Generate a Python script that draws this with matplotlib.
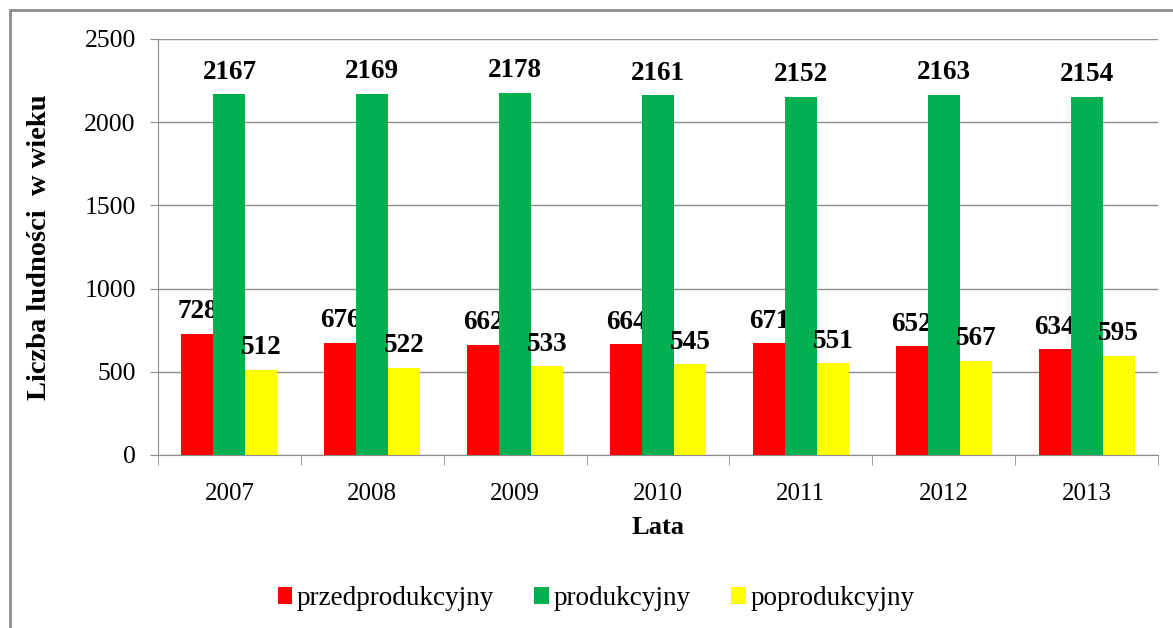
import matplotlib
matplotlib.use('Agg')
import numpy as np
import matplotlib.pyplot as plt
from matplotlib.patches import Rectangle

lata = ['2007', '2008', '2009', '2010', '2011', '2012', '2013']
przedprodukcyjny = [728, 676, 662, 664, 671, 652, 634]
produkcyjny = [2167, 2169, 2178, 2161, 2152, 2163, 2154]
poprodukcyjny = [512, 522, 533, 545, 551, 567, 595]

plt.rcParams['font.family'] = ['Liberation Serif', 'DejaVu Serif']

fig = plt.figure(figsize=(11.73, 6.28), dpi=100)
ax = fig.add_axes([0.1347, 0.2755, 0.8526, 0.6624])

# ramka wokol wykresu
fig.patches.append(Rectangle((10 / 1173, -0.05), 1.2, 1 - 10 / 628 + 0.05,
                             transform=fig.transFigure, fill=False,
                             edgecolor='#8c8c8c', linewidth=2))

x = np.arange(len(lata))
w = 0.224
serie = [
    (przedprodukcyjny, '#FF0000', 'przedprodukcyjny', -w),
    (produkcyjny, '#00B050', 'produkcyjny', 0),
    (poprodukcyjny, '#FFFF00', 'poprodukcyjny', w),
]
for vals, kolor, nazwa, off in serie:
    bars = ax.bar(x + off, vals, w, color=kolor, label=nazwa, zorder=3)
    for b, v in zip(bars, vals):
        ax.annotate(str(v), (b.get_x() + b.get_width() / 2, v),
                    xytext=(0, 7), textcoords='offset points',
                    ha='center', va='bottom', fontsize=19.5, fontweight='bold')

ax.set_xlim(-0.5, len(lata) - 0.5)
ax.set_ylim(0, 2500)
ax.set_yticks(range(0, 2501, 500))
ax.grid(axis='y', color='#8c8c8c', linewidth=1, zorder=0)

ax.set_xticks(x)
ax.set_xticklabels(lata, fontsize=18)
ax.set_xticks(np.arange(-0.5, len(lata)), minor=True)
ax.tick_params(axis='x', which='major', length=0, pad=20)
ax.tick_params(axis='x', which='minor', length=7, color='#8c8c8c')
ax.tick_params(axis='y', labelsize=18.5, length=6, color='#8c8c8c', pad=10)

for s in ['top', 'right']:
    ax.spines[s].set_visible(False)
for s in ['left', 'bottom']:
    ax.spines[s].set_color('#8c8c8c')

ax.set_xlabel('Lata', fontsize=19, fontweight='bold', labelpad=8)
ax.set_ylabel('Liczba ludności  w wieku', fontsize=20.5, fontweight='bold', labelpad=23)

fig.legend(loc='center', bbox_to_anchor=(0.508, 0.047), ncol=3, frameon=False,
           fontsize=19.5, handlelength=0.55, handleheight=0.55, handletextpad=0.15,
           columnspacing=1.5)

fig.savefig('out.png', dpi=100)
